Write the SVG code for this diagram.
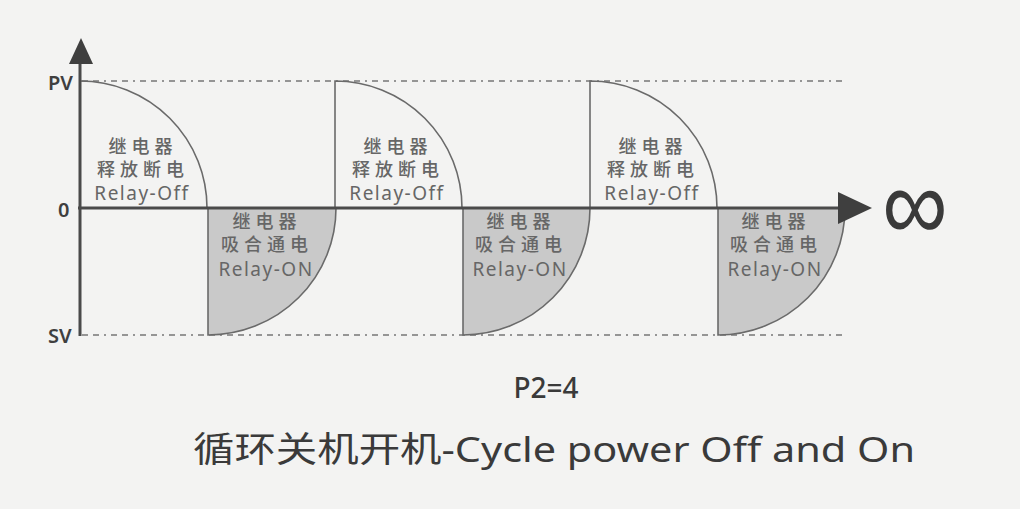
<svg xmlns="http://www.w3.org/2000/svg" width="1020" height="509" viewBox="0 0 1020 509">
<style>
.bg{fill:#f3f3f2}
.axis{stroke:#4a4a4a;stroke-width:3;fill:none}
.head{fill:#3f3f3f}
.ref{stroke:#777;stroke-width:1.6;fill:none;stroke-dasharray:6 5 6 5 2 5}
.off{fill:none;stroke:#6a6a6a;stroke-width:1.6}
.on{fill:#c9c9c9;stroke:#6a6a6a;stroke-width:1.6}
.lbl{font-family:"Noto Sans","Noto Sans CJK SC",sans-serif;fill:#666;font-size:19px;text-anchor:middle}
.cjk{font-family:"Noto Sans CJK SC","Noto Sans",sans-serif;font-size:18px;font-weight:500;letter-spacing:5px}
.lat{letter-spacing:1.5px}
.ax{font-family:"Noto Sans",sans-serif;font-weight:600;font-size:20px;fill:#3f3f3f}
.cap{font-family:"Noto Sans","Noto Sans CJK SC",sans-serif;fill:#3a3a3a}
</style>
<rect class="bg" x="0" y="0" width="1020" height="509"/>
<g id="references">
<line class="ref" x1="82" y1="81" x2="845" y2="81"/>
<line class="ref" x1="82" y1="335" x2="845" y2="335"/>
</g>
<g id="off1">
<path class="off" d="M80,81 A127,127 0 0 1 207,208"/>
<text class="lbl cjk" x="143" y="153">继电器</text>
<text class="lbl cjk" x="143" y="176">释放断电</text>
<text class="lbl lat" x="142" y="200">Relay-Off</text>
</g>
<g id="on1">
<path class="on" d="M208,208 V335 A128,127 0 0 0 336,208 Z"/>
<text class="lbl cjk" x="267" y="228">继电器</text>
<text class="lbl cjk" x="267" y="251">吸合通电</text>
<text class="lbl lat" x="266" y="276">Relay-ON</text>
</g>
<g id="off2">
<path class="off" d="M335,208 V81 A127,127 0 0 1 462,208"/>
<text class="lbl cjk" x="398" y="153">继电器</text>
<text class="lbl cjk" x="398" y="176">释放断电</text>
<text class="lbl lat" x="397" y="200">Relay-Off</text>
</g>
<g id="on2">
<path class="on" d="M463,208 V335 A127,127 0 0 0 590,208 Z"/>
<text class="lbl cjk" x="521" y="228">继电器</text>
<text class="lbl cjk" x="521" y="251">吸合通电</text>
<text class="lbl lat" x="520" y="276">Relay-ON</text>
</g>
<g id="off3">
<path class="off" d="M590,208 V81 A127,127 0 0 1 717,208"/>
<text class="lbl cjk" x="653" y="153">继电器</text>
<text class="lbl cjk" x="653" y="176">释放断电</text>
<text class="lbl lat" x="652" y="200">Relay-Off</text>
</g>
<g id="on3">
<path class="on" d="M718,208 V335 A127,127 0 0 0 845,208 Z"/>
<text class="lbl cjk" x="776" y="228">继电器</text>
<text class="lbl cjk" x="776" y="251">吸合通电</text>
<text class="lbl lat" x="775" y="276">Relay-ON</text>
</g>
<g id="connectors">
<line class="axis" x1="80" y1="62" x2="80" y2="336"/>
<polygon class="head" points="81,38 69,64 93,64"/>
<line class="axis" x1="78" y1="208" x2="842" y2="208"/>
<polygon class="head" points="838,192 872,208 838,224"/>
</g>
<g id="labels">
<text class="ax" x="48" y="90">PV</text>
<text class="ax" x="58" y="217">0</text>
<text class="ax" x="48" y="343">SV</text>
<text x="0" y="0" transform="translate(915,240) scale(1,1.12)" font-family="Noto Sans,sans-serif" font-size="92" fill="#3a3a3a" text-anchor="middle">∞</text>
<text class="cap" x="546" y="398" font-size="28" font-weight="500" text-anchor="middle">P2=4</text>
<text class="cap" x="193" y="462" font-size="35" textLength="722" lengthAdjust="spacingAndGlyphs">循环关机开机-Cycle power Off and On</text>
</g>
</svg>
